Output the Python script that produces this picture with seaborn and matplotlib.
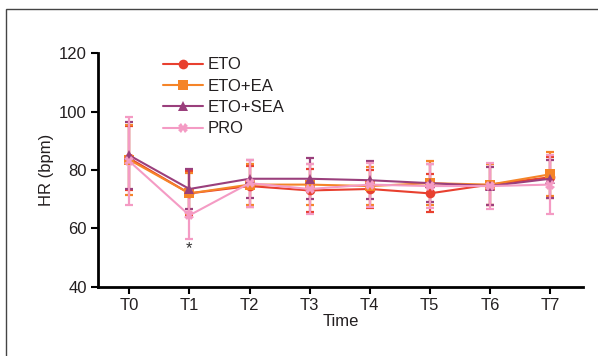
import numpy as np
import pandas as pd
import matplotlib
matplotlib.use("Agg")
import matplotlib.pyplot as plt
import seaborn as sns
from matplotlib.patches import Rectangle

times = ["T0", "T1", "T2", "T3", "T4", "T5", "T6", "T7"]
groups = ["ETO", "ETO+EA", "ETO+SEA", "PRO"]

eto_mean = [84, 72, 74.5, 73, 73.5, 72, 75, 77.5]
eto_sd = [11, 7.5, 7, 7.5, 6.5, 6.5, 7, 7]
ea_mean = [83.5, 72, 75, 75, 74.5, 75.5, 75, 78.5]
ea_sd = [12, 7, 7, 7, 6.5, 7.5, 7, 7.5]
sea_mean = [85, 73.5, 77, 77, 76.5, 75.5, 74.5, 77]
sea_sd = [11.5, 7, 6.5, 7, 6.5, 6.5, 6.5, 6.5]
pro_mean = [83, 64.5, 75.5, 73.5, 75, 74.5, 74.5, 75]
pro_sd = [15, 8, 8, 8.5, 7.5, 7.5, 8, 10]

colors = ["#E8402F", "#F58428", "#9A3F7C", "#F49BC4"]
markers = ["o", "s", "^", "X"]

means = [eto_mean, ea_mean, sea_mean, pro_mean]
sds = [eto_sd, ea_sd, sea_sd, pro_sd]

rows = []
for g, m, s in zip(groups, means, sds):
    for i, t in enumerate(times):
        rows.append({"group": g, "pos": i, "time": t, "hr": m[i], "sd": s[i]})
df = pd.DataFrame(rows)

sns.set_style("ticks")
plt.rcParams["font.family"] = ["Liberation Sans", "DejaVu Sans"]

fig = plt.figure(figsize=(5.98, 3.56), dpi=100)
ax = fig.add_axes([0.164, 0.194, 0.811, 0.657])

# error bars first
for g, c in zip(groups, colors):
    d = df[df["group"] == g]
    ax.errorbar(d["pos"], d["hr"], yerr=d["sd"], fmt="none", ecolor=c,
                elinewidth=1.6, capsize=3, capthick=1.6, zorder=2)

sns.lineplot(data=df, x="pos", y="hr", hue="group", style="group",
             hue_order=groups, style_order=groups, palette=colors,
             markers=markers, dashes=False, markersize=7, linewidth=1.5,
             markeredgewidth=0, ax=ax, zorder=3)

ax.text(1, 53, "*", ha="center", va="center", fontsize=12, color="#333333")

ax.set_xlim(-0.52, 7.55)
ax.set_ylim(40, 120)
ax.set_yticks([40, 60, 80, 100, 120])
ax.set_xticks(range(len(times)))
ax.set_xticklabels(times)
ax.set_xlabel("Time", fontsize=12, labelpad=1, color="#231F20")
ax.set_ylabel("HR (bpm)", fontsize=12, labelpad=4, color="#231F20")
ax.tick_params(axis="both", labelsize=12, width=1.5, length=5, color="black",
               labelcolor="#231F20", pad=3)
for sp in ["left", "bottom"]:
    ax.spines[sp].set_linewidth(2)
    ax.spines[sp].set_color("black")
sns.despine(ax=ax)

leg = ax.legend(loc="upper left", bbox_to_anchor=(0.12, 1.01), frameon=False,
                fontsize=12, handlelength=2.4, handletextpad=0.3,
                labelspacing=0.38, borderaxespad=0)
for t in leg.get_texts():
    t.set_color("#231F20")

fig.patches.append(Rectangle((6 / 598, -0.1), 1.2, 0.975 + 0.1,
                             transform=fig.transFigure, fill=False,
                             edgecolor="#444444", linewidth=1))

fig.savefig("out.png", dpi=100)
